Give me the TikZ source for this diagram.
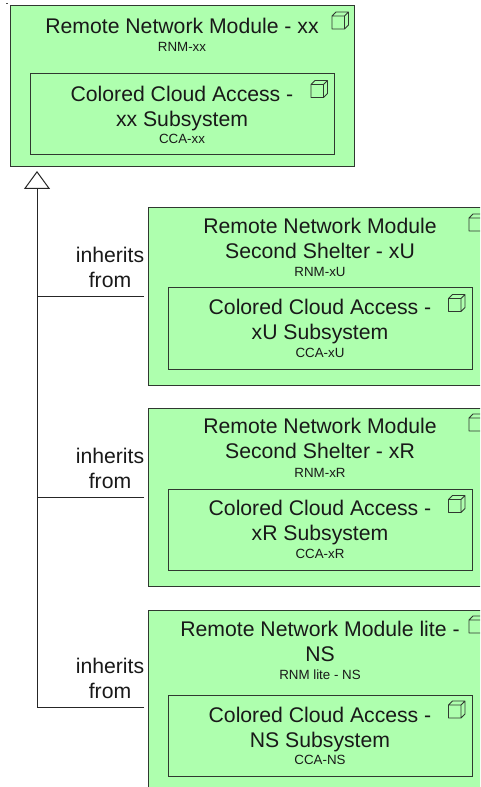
\documentclass[tikz,border=0pt]{standalone}
\usepackage{fontspec}
\setmainfont{Liberation Sans}
\usetikzlibrary{arrows.meta}
\definecolor{modfill}{HTML}{AEFFAE}
\definecolor{modline}{HTML}{303830}
\tikzset{
  modbox/.style={draw=modline,fill=modfill,line width=0.75pt,minimum width=258pt,inner sep=0pt,outer sep=0pt,anchor=north west},
  subbox/.style={draw=modline,fill=modfill,line width=0.75pt,minimum width=228pt,minimum height=60.75pt,inner sep=0pt,outer sep=0pt,anchor=north west},
  bigtext/.style={font=\fontsize{15.9}{19}\selectfont,align=center,inner sep=0pt,anchor=north,text=black!90},
  smalltext/.style={font=\fontsize{10}{11}\selectfont,inner sep=0pt,anchor=base,text=black!90},
  link/.style={draw=black!85,line width=0.75pt},
  cubeicon/.pic={
    \draw[modline,line width=0.7pt,line join=round] (0,4) rectangle (12.5,17)
      (0,4) -- (4,0) -- (16.5,0) -- (16.5,13) -- (12.5,17) (12.5,4) -- (16.5,0);
  }
}
\begin{document}
\begin{tikzpicture}[x=0.75pt,y=-0.75pt]
\useasboundingbox (0,0) rectangle (480,787);
\clip (0,0) rectangle (480,787);
\fill[white] (0,0) rectangle (480,787);
\draw[black!70,line width=0.6pt] (6,3) -- (8,3);

% top module
\node[modbox,minimum height=120.75pt] (b1) at (10,6) {};
\node[subbox] (s1) at (30,74) {};
\node[bigtext] (t1) at (182,17.5) {Remote Network Module - xx};
\node[smalltext] (r1) at (182,52) {RNM-xx};
\node[bigtext] (u1) at (182,85.5) {Colored Cloud Access -\\xx Subsystem};
\node[smalltext] (c1) at (182,144) {CCA-xx};
\pic at (332,12) {cubeicon};
\pic at (311,80.5) {cubeicon};

% xU
\node[modbox,minimum height=132.75pt] (b2) at (148,208) {};
\node[subbox] (s2) at (168,288) {};
\node[bigtext] (t2) at (320,217.5) {Remote Network Module\\Second Shelter - xU};
\node[smalltext] (r2) at (320,276.5) {RNM-xU};
\node[bigtext] (u2) at (320,298.5) {Colored Cloud Access -\\xU Subsystem};
\node[smalltext] (c2) at (320,357.5) {CCA-xU};
\pic at (469,214) {cubeicon};
\pic at (448.5,294.5) {cubeicon};

% xR
\node[modbox,minimum height=133.5pt] (b3) at (148,408) {};
\node[subbox] (s3) at (168,489) {};
\node[bigtext] (t3) at (320,417.5) {Remote Network Module\\Second Shelter - xR};
\node[smalltext] (r3) at (320,477) {RNM-xR};
\node[bigtext] (u3) at (320,499.5) {Colored Cloud Access -\\xR Subsystem};
\node[smalltext] (c3) at (320,558.5) {CCA-xR};
\pic at (469,414) {cubeicon};
\pic at (448.5,495.5) {cubeicon};

% NS
\node[modbox,minimum height=145.5pt] (b4) at (148,610) {};
\node[subbox] (s4) at (168,695) {};
\node[bigtext] (t4) at (320,620.5) {Remote Network Module lite -\\NS};
\node[smalltext] (r4) at (320,679.5) {RNM lite - NS};
\node[bigtext] (u4) at (320,706.5) {Colored Cloud Access -\\NS Subsystem};
\node[smalltext] (c4) at (320,764.5) {CCA-NS};
\pic at (469,616) {cubeicon};
\pic at (448.5,701) {cubeicon};

% inheritance
\coordinate (tip) at (37,171);
\draw[link,shorten <=3pt,-{Triangle[open,fill=white,length=13.5pt,width=19.5pt]}] (b4.west) -- (tip |- b4.west) -- (tip);
\draw[link,shorten <=3pt] (b2.west) -- (tip |- b2.west);
\draw[link,shorten <=3pt] (b3.west) -- (tip |- b3.west);
\node[bigtext] (i2) at (110,247) {inherits\\from};
\node[bigtext] (i3) at (110,448) {inherits\\from};
\node[bigtext] (i4) at (110,658) {inherits\\from};
\end{tikzpicture}
\end{document}
